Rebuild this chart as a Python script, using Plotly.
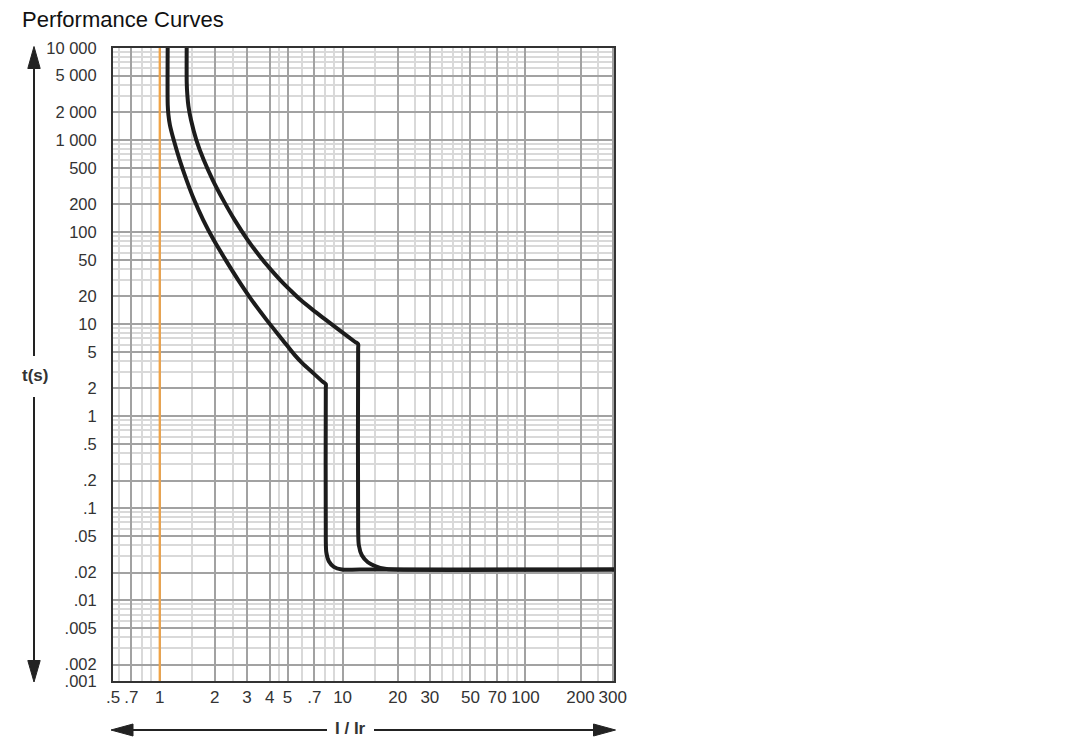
import plotly.graph_objects as go

# ---------------- data ----------------
# lower (inner) trip curve: current multiple I/Ir vs time t(s)
low_I = [1.106, 1.106, 1.116, 1.137, 1.193, 1.286, 1.402, 1.544, 1.730, 1.974, 2.296, 2.688, 3.186,
         3.848, 4.709, 5.477, 6.019, 6.958, 7.794, 8.093, 8.093, 8.093, 8.145, 8.405, 8.95, 9.90, 12.42, 400]
low_t = [12000, 2401, 1869, 1456, 1000, 606, 367.5, 222.7, 135.0, 81.9, 49.6, 30.1, 18.24,
         11.05, 6.70, 4.60, 3.77, 2.90, 2.365, 2.227, 2.015, 0.0449, 0.0332, 0.0265, 0.0231, 0.0216, 0.0216,
         0.0216]

# upper (outer) trip curve
high_I = [1.405, 1.405, 1.416, 1.435, 1.483, 1.586, 1.741, 1.950, 2.225, 2.572,
          3.029, 3.660, 4.074, 4.563, 5.175, 5.907, 6.896, 8.135, 9.924, 11.66,
          12.16, 12.16, 12.16, 12.27, 12.74, 13.74, 15.19, 17.02, 19.3, 400]
high_t = [12000, 4165, 3084, 2342, 1650, 1000, 606, 367.5, 222.7, 135.0,
          81.9, 49.6, 38.6, 30.1, 23.4, 18.24, 14.2, 11.05, 8.19, 6.44,
          6.06, 5.48, 0.0577, 0.0396, 0.0308, 0.0259, 0.0234, 0.0220, 0.0216, 0.0216]

# reference current Ir (orange line)
ir_value = 1

# axis ticks
x_tick_vals = [0.556, 0.7, 1, 2, 3, 4, 5, 7, 10, 20, 30, 50, 70, 100, 200, 300]
x_tick_text = [".5", ".7", "1", "2", "3", "4", "5", ".7", "10", "20", "30", "50", "70", "100", "200", "300"]
y_tick_vals = [10000, 5000, 2000, 1000, 500, 200, 100, 50, 20, 10, 5, 2, 1, 0.5, 0.2, 0.1,
               0.05, 0.02, 0.01, 0.005, 0.002, 0.00133]
y_tick_text = ["10 000", "5 000", "2 000", "1 000", "500", "200", "100", "50", "20", "10", "5", "2",
               "1", ".5", ".2", ".1", ".05", ".02", ".01", ".005", ".002", ".001"]

x_minor_vals = [0.6, 0.8, 0.9, 1.5, 2.5, 4.5, 6, 8, 9, 15, 25, 35, 40, 45, 60, 80, 90, 150, 250]
y_minor_vals = [m * 10 ** k for k in range(-3, 4) for m in (3, 4, 6, 7, 8, 9)]

X_RANGE_LOG = [-0.2555, 2.484]
Y_RANGE_LOG = [-2.877, 4.0]

# ---------------- layout geometry ----------------
FIG_W, FIG_H = 1078, 754
L, T, R, B = 113, 48, 464, 73
W = FIG_W - L - R
H = FIG_H - T - B


def pxx(x):
    return (x - L) / W


def pxy(y):
    return (T + H - y) / H


FONT = "Liberation Sans, Arial, Helvetica, sans-serif"
INK = "#222222"

fig = go.Figure()

fig.add_trace(go.Scatter(x=[ir_value, ir_value], y=[1e-4, 1e5], mode="lines",
                         line=dict(color="#F2A445", width=2.2), hoverinfo="skip", showlegend=False))
for xs, ys in ((low_I, low_t), (high_I, high_t)):
    fig.add_trace(go.Scatter(x=xs, y=ys, mode="lines",
                             line=dict(color="#1c1c1c", width=4, shape="spline", smoothing=0.8),
                             hoverinfo="skip", showlegend=False))

axis_common = dict(
    type="log", showline=True, mirror=True, linecolor="#333333", linewidth=2,
    ticks="", zeroline=False, showgrid=True, gridcolor="#a2a2a2", gridwidth=1.5,
    tickmode="array",
)

fig.update_xaxes(**axis_common, range=X_RANGE_LOG, tickvals=x_tick_vals, ticktext=x_tick_text,
                 tickfont=dict(family=FONT, size=17, color="#333333"),
                 minor=dict(tickmode="array", tickvals=x_minor_vals, showgrid=True,
                            gridcolor="#d9d9d9", gridwidth=1.5, ticks=""))
fig.update_yaxes(**axis_common, range=Y_RANGE_LOG, tickvals=y_tick_vals, ticktext=y_tick_text,
                 tickfont=dict(family=FONT, size=16.5, color="#333333"), ticklabelstandoff=11,
                 minor=dict(tickmode="array", tickvals=y_minor_vals, showgrid=True,
                            gridcolor="#d9d9d9", gridwidth=1.5, ticks=""))

# ---------------- decorations: axis arrows ----------------
shapes = []
line_style = dict(color=INK, width=2)
# vertical arrow (t axis)
shapes.append(dict(type="line", xref="paper", yref="paper", x0=pxx(34), x1=pxx(34),
                   y0=pxy(66), y1=pxy(356), line=line_style))
shapes.append(dict(type="line", xref="paper", yref="paper", x0=pxx(34), x1=pxx(34),
                   y0=pxy(397), y1=pxy(662), line=line_style))
# horizontal arrow (I/Ir axis)
shapes.append(dict(type="line", xref="paper", yref="paper", x0=pxx(130), x1=pxx(327),
                   y0=pxy(730), y1=pxy(730), line=line_style))
shapes.append(dict(type="line", xref="paper", yref="paper", x0=pxx(374), x1=pxx(596),
                   y0=pxy(730), y1=pxy(730), line=line_style))


def tri(p1, p2, p3):
    return dict(type="path", xref="paper", yref="paper",
                path="M{},{} L{},{} L{},{} Z".format(pxx(p1[0]), pxy(p1[1]), pxx(p2[0]), pxy(p2[1]),
                                                    pxx(p3[0]), pxy(p3[1])),
                fillcolor=INK, line=dict(color=INK, width=1))


shapes.append(tri((34, 46.5), (27.8, 68.5), (40.2, 68.5)))
shapes.append(tri((34, 682), (27.8, 660.5), (40.2, 660.5)))
shapes.append(tri((111, 730), (133, 724), (133, 736)))
shapes.append(tri((615.5, 730), (593.5, 724), (593.5, 736)))

annotations = [
    dict(text="Performance Curves", xref="paper", yref="paper", x=pxx(20), y=pxy(19),
         xanchor="left", yanchor="middle", showarrow=False,
         font=dict(family=FONT, size=22, color="#111111")),
    dict(text="<b>t(s)</b>", xref="paper", yref="paper", x=pxx(35), y=pxy(376),
         xanchor="center", yanchor="middle", showarrow=False,
         font=dict(family=FONT, size=17, color="#333333")),
    dict(text="<b>I / Ir</b>", xref="paper", yref="paper", x=pxx(350.5), y=pxy(729),
         xanchor="center", yanchor="middle", showarrow=False,
         font=dict(family=FONT, size=17, color="#333333")),
]

fig.update_layout(
    width=FIG_W, height=FIG_H, autosize=False,
    margin=dict(l=L, r=R, t=T, b=B, pad=0),
    paper_bgcolor="white", plot_bgcolor="white",
    shapes=shapes, annotations=annotations,
    font=dict(family=FONT),
    showlegend=False,
)

fig.write_html("out.html", config={"displayModeBar": False},
               post_script="document.body.style.margin='0';document.body.style.overflow='hidden';")
